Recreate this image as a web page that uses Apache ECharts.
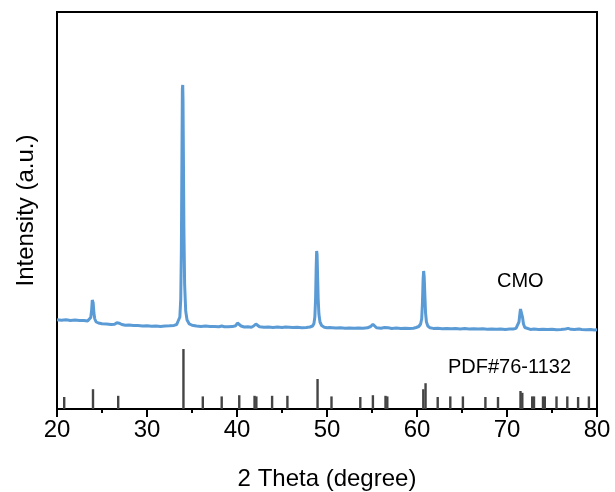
<!DOCTYPE html>
<html>
<head>
<meta charset="utf-8">
<script src="https://cdn.jsdelivr.net/npm/echarts@6/dist/echarts.min.js"></script>
<style>
  html, body { margin: 0; padding: 0; background: #fff; }
  #chart { width: 615px; height: 492px; }
</style>
</head>
<body>
<div id="chart"></div>
<script>
// Measured XRD pattern of CMO: [2θ (degree), intensity (counts)]
const cmoPattern = [
  [20.0, 892], [20.5, 888], [21.0, 893], [21.5, 886], [22.0, 889], [22.5, 884], [23.0, 886],
  [23.4, 880], [23.6, 888], [23.75, 915], [23.85, 990], [23.92, 1090], [23.97, 1110], [24.02, 1060],
  [24.1, 960], [24.2, 900], [24.35, 870], [24.6, 860], [25.0, 852], [25.5, 850], [26.0, 846],
  [26.4, 848], [26.65, 862], [26.78, 872], [26.9, 858], [27.2, 845], [27.6, 838], [28.0, 840],
  [28.5, 834], [29.0, 836], [29.5, 831], [30.0, 833], [30.5, 828], [31.0, 831], [31.5, 826],
  [32.0, 829], [32.5, 832], [33.0, 836], [33.3, 845], [33.5, 865], [33.65, 920], [33.75, 1100],
  [33.82, 1600], [33.88, 2500], [33.93, 3200], [33.97, 3240], [34.0, 3100], [34.04, 2600],
  [34.1, 1800], [34.18, 1250], [34.3, 980], [34.45, 890], [34.7, 850], [35.0, 838], [35.5, 830],
  [36.0, 826], [36.5, 829], [37.0, 824], [37.5, 826], [38.0, 823], [38.3, 830], [38.6, 823],
  [39.0, 822], [39.5, 824], [39.85, 832], [40.05, 860], [40.15, 873], [40.25, 858], [40.45, 830],
  [40.8, 820], [41.2, 822], [41.6, 818], [41.85, 830], [42.0, 848], [42.1, 850], [42.25, 836],
  [42.5, 822], [43.0, 818], [43.5, 820], [44.0, 816], [44.5, 819], [45.0, 815], [45.4, 820],
  [45.6, 830], [45.8, 818], [46.2, 815], [46.7, 817], [47.2, 813], [47.7, 816], [48.1, 820],
  [48.4, 830], [48.55, 855], [48.65, 920], [48.73, 1100], [48.8, 1420], [48.85, 1580], [48.9, 1540],
  [48.95, 1350], [49.02, 1100], [49.1, 950], [49.22, 870], [49.4, 835], [49.7, 818], [50.0, 812],
  [50.3, 815], [50.45, 822], [50.6, 813], [51.0, 810], [51.5, 812], [52.0, 808], [52.5, 811],
  [53.0, 807], [53.5, 810], [54.0, 808], [54.5, 812], [54.85, 825], [55.0, 845], [55.1, 848],
  [55.25, 828], [55.5, 812], [56.0, 808], [56.4, 815], [56.6, 826], [56.8, 812], [57.2, 806],
  [57.7, 809], [58.2, 805], [58.7, 808], [59.2, 804], [59.6, 808], [59.9, 815], [60.2, 825],
  [60.4, 850], [60.52, 900], [60.6, 1050], [60.68, 1300], [60.74, 1380], [60.8, 1320], [60.87, 1150],
  [60.95, 960], [61.05, 870], [61.2, 830], [61.45, 812], [61.8, 806], [62.3, 808], [62.8, 803],
  [63.3, 806], [63.8, 802], [64.3, 805], [64.8, 801], [65.3, 804], [65.8, 800], [66.3, 803],
  [66.8, 799], [67.3, 802], [67.8, 798], [68.3, 801], [68.8, 797], [69.3, 800], [69.8, 796],
  [70.3, 799], [70.7, 800], [71.0, 806], [71.2, 825], [71.33, 870], [71.43, 950], [71.5, 1000],
  [71.56, 1013], [71.63, 990], [71.72, 920], [71.83, 850], [71.98, 815], [72.2, 800], [72.6, 796],
  [73.0, 799], [73.5, 795], [74.0, 798], [74.5, 794], [75.0, 797], [75.5, 793], [76.0, 796],
  [76.5, 800], [76.8, 806], [77.1, 797], [77.5, 794], [78.0, 800], [78.3, 795], [78.8, 792],
  [79.3, 795], [79.7, 791], [80.0, 793]
];

// Reference card PDF#76-1132: [2θ (degree), relative intensity (%)]
const pdfLines = [
  [20.8, 20], [24.0, 33], [26.8, 22], [34.05, 100], [36.2, 21], [38.3, 21], [40.25, 23],
  [41.95, 22], [42.15, 21], [43.9, 22], [45.6, 22], [48.95, 50], [50.5, 21], [53.7, 20],
  [55.1, 23], [56.5, 22], [56.7, 21], [60.7, 33], [60.95, 43], [62.3, 20], [63.7, 21],
  [65.1, 21], [67.6, 20], [69.0, 20], [71.5, 30], [71.7, 27], [72.8, 21], [73.0, 21],
  [74.0, 21], [74.2, 21], [75.5, 21], [76.7, 21], [77.9, 20], [79.1, 21]
];

const xTicks = [20, 30, 40, 50, 60, 70, 80];
const seriesNames = ['CMO', 'PDF#76-1132'];
const axisNames = ['2 Theta (degree)', 'Intensity (a.u.)'];

const FONT = 'Liberation Sans, Arial, sans-serif';
const chart = echarts.init(document.getElementById('chart'), null, { renderer: 'canvas' });

chart.setOption({
  backgroundColor: '#ffffff',
  animation: false,
  grid: {
    left: 57, right: 18, top: 12, bottom: 83,
    containLabel: false,
    outerBoundsMode: 'none',
    show: true, borderColor: '#000', borderWidth: 2, backgroundColor: 'transparent'
  },
  xAxis: {
    type: 'value',
    min: xTicks[0],
    max: xTicks[xTicks.length - 1],
    interval: xTicks[1] - xTicks[0],
    name: axisNames[0],
    nameLocation: 'middle',
    nameGap: 58,
    nameTextStyle: { fontFamily: FONT, fontSize: 24, color: '#000' },
    axisLine: { show: true, onZero: false, lineStyle: { color: '#000', width: 2 } },
    axisTick: { show: true, inside: false, length: 8, lineStyle: { color: '#000', width: 2 } },
    minorTick: { show: true, splitNumber: 2, length: 4, lineStyle: { color: '#000', width: 2 } },
    axisLabel: {
      margin: 9, fontFamily: FONT, fontSize: 24, color: '#000',
      formatter: v => (xTicks.indexOf(v) >= 0 ? String(v) : '')
    },
    splitLine: { show: false }
  },
  yAxis: [
    {
      type: 'value',
      min: 0, max: 3970,
      name: axisNames[1],
      nameLocation: 'middle',
      nameGap: 19,
      nameTextStyle: { fontFamily: FONT, fontSize: 24, color: '#000' },
      axisLine: { show: true, lineStyle: { color: '#000', width: 2 } },
      axisTick: { show: false },
      axisLabel: { show: false },
      splitLine: { show: false }
    },
    {
      type: 'value',
      min: 0, max: 662,
      show: false,
      splitLine: { show: false }
    }
  ],
  series: [
    {
      name: seriesNames[0],
      type: 'line',
      yAxisIndex: 0,
      data: cmoPattern,
      showSymbol: false,
      smooth: false,
      lineStyle: { color: '#5b9bd5', width: 3 },
      z: 3
    },
    {
      name: seriesNames[1],
      type: 'bar',
      yAxisIndex: 1,
      data: pdfLines,
      barWidth: 2.4,
      itemStyle: { color: '#454545' },
      z: 2
    }
  ],
  graphic: [
    {
      type: 'text', left: 497, top: 271,
      style: { text: seriesNames[0], fontFamily: FONT, fontSize: 20, fill: '#000' }
    },
    {
      type: 'text', left: 448, top: 357,
      style: { text: seriesNames[1], fontFamily: FONT, fontSize: 20, fill: '#000' }
    }
  ]
});
</script>
</body>
</html>
